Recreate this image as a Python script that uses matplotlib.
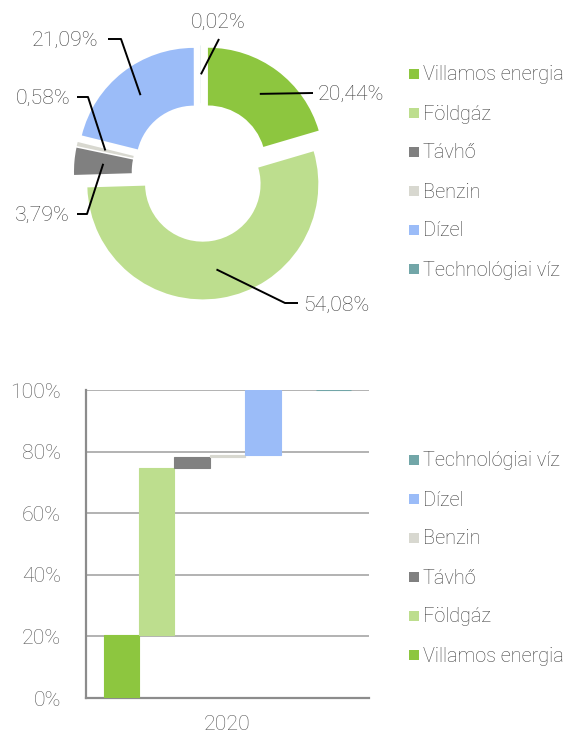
import numpy as np
import matplotlib
matplotlib.use("Agg")
import matplotlib.pyplot as plt
from matplotlib.patches import Rectangle

plt.rcParams['font.family'] = ['Roboto', 'DejaVu Sans']
plt.rcParams['font.weight'] = 'light'

# ---------------- data ----------------
categories = ["Villamos energia", "Földgáz", "Távhő", "Benzin", "Dízel", "Technológiai víz"]
shares = [20.44, 54.08, 3.79, 0.58, 21.09, 0.02]
pct_labels = ["20,44%", "54,08%", "3,79%", "0,58%", "21,09%", "0,02%"]
year_label = "2020"
y_ticks = [0, 20, 40, 60, 80, 100]
y_tick_labels = ["0%", "20%", "40%", "60%", "80%", "100%"]

colors = ["#8DC63F", "#BDDE8E", "#808080", "#D8D8D0", "#9BBCF8", "#72A6A8"]
text_col = "#404040"
tick_col = "#595959"
FS_NUM = 15.3
FS_LEG = 14.3

W, H = 576, 733
fig = plt.figure(figsize=(W / 100, H / 100), dpi=100)

def fx(px):
    return px / W

def fy(py):
    return 1 - py / H

# ---------------- donut ----------------
cx, cy, R = 201, 172.5, 115.5
axp = fig.add_axes([0, fy(345), fx(402), 345 / H])
explode = 0.1
axp.pie(shares, colors=colors, startangle=90, counterclock=False,
        radius=1, explode=[explode] * len(shares),
        wedgeprops=dict(width=0.5, linewidth=0))
axp.set_aspect("auto")
axp.set_xlim(-cx / R, (402 - cx) / R)
axp.set_ylim(-(345 - cy) / R, cy / R)
axp.axis("off")

def d(px, py):
    return ((px - cx) / R, (cy - py) / R)

# label layout: (path points in pixels after anchor, text pos, ha)
label_layout = {
    0: ([(313, 93)], (318, 94), "left"),
    1: ([(285, 303), (298, 303)], (303, 305), "left"),
    2: ([(87, 214), (77, 214)], (70, 215), "right"),
    3: ([(88, 97), (77, 97)], (70, 98), "right"),
    4: ([(121, 39), (108, 39)], (98, 40), "right"),
    5: ([(219, 39)], (218, 22), "center"),
}
cum = np.cumsum([0] + shares)
total = cum[-1]
for i in range(len(shares)):
    mid = (cum[i] + cum[i + 1]) / 2 / total * 2 * np.pi
    r = 0.75 + explode
    ax0, ay0 = r * np.sin(mid), r * np.cos(mid)
    pts, tpos, ha = label_layout[i]
    xs = [ax0] + [d(*p)[0] for p in pts]
    ys = [ay0] + [d(*p)[1] for p in pts]
    axp.plot(xs, ys, color="black", lw=1.4, solid_capstyle="butt", clip_on=False)
    tx, ty = d(*tpos)
    axp.text(tx, ty, pct_labels[i], ha=ha, va="center", fontsize=FS_NUM,
             color=text_col, clip_on=False)

def legend(order, y0, dy):
    for k, i in enumerate(order):
        yc = y0 + k * dy
        fig.add_artist(Rectangle((fx(409), fy(yc + 4)), 10 / W, 10 / H,
                                 transform=fig.transFigure, color=colors[i], lw=0))
        fig.text(fx(423), fy(yc), categories[i], ha="left", va="center",
                 fontsize=FS_LEG, color=text_col)

legend(range(6), 75, 39)

# ---------------- waterfall ----------------
axb = fig.add_axes([fx(86), fy(698), 283 / W, 308 / H])
slots = [0, 1, 2, 3, 4, 6]
bottoms = cum[:-1]
for i in range(len(shares)):
    axb.bar(slots[i], shares[i], bottom=bottoms[i], width=1.0,
            color=colors[i], edgecolor=colors[i], linewidth=0.8, zorder=3)
axb.set_xlim(-1, 7)
axb.set_ylim(0, 100)
axb.set_yticks(y_ticks)
axb.set_yticklabels(y_tick_labels)
axb.set_xticks([3])
axb.set_xticklabels([year_label])
axb.tick_params(axis="both", length=0, labelsize=FS_NUM, colors=tick_col)
axb.tick_params(axis="y", pad=18)
axb.tick_params(axis="x", pad=12)
axb.grid(axis="y", color="#A6A6A6", lw=1.2, zorder=0)
for s in ["top", "right"]:
    axb.spines[s].set_visible(False)
for s in ["left", "bottom"]:
    axb.spines[s].set_color("#8C8C8C")
    axb.spines[s].set_linewidth(1.6)

legend(list(range(6))[::-1], 461, 39)

fig.savefig("out.png", dpi=100)
